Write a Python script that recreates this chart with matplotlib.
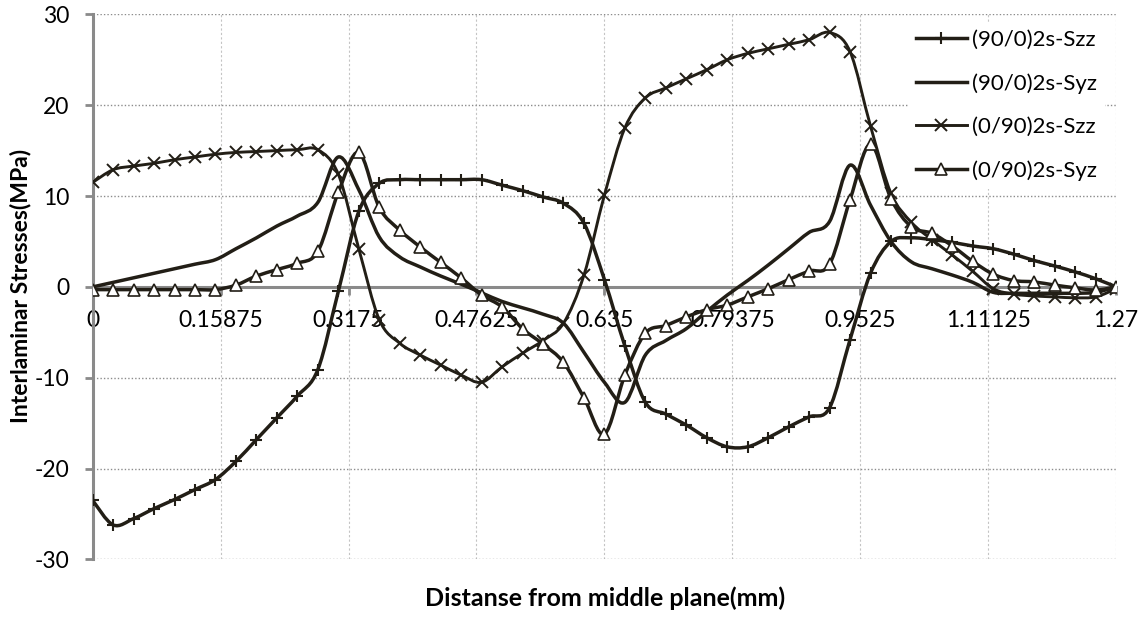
"""
Interlaminar stresses across the laminate thickness, (90/0)2s vs (0/90)2s.
"""

import numpy as np
import matplotlib
matplotlib.use("Agg")
import matplotlib.pyplot as plt
from matplotlib.path import Path
from matplotlib.patches import PathPatch
from matplotlib.lines import Line2D

plt.rcParams['font.family'] = ['Lato', 'DejaVu Sans']
plt.rcParams['axes.unicode_minus'] = False

# distance from middle plane (mm), one point every 0.0254 mm
x_mm = [0, 0.0254, 0.0508, 0.0762, 0.1016, 0.127, 0.1524, 0.1778, 0.2032, 0.2286,
        0.254, 0.2794, 0.3048, 0.3302, 0.3556, 0.381, 0.4064, 0.4318, 0.4572, 0.4826,
        0.508, 0.5334, 0.5588, 0.5842, 0.6096, 0.635, 0.6604, 0.6858, 0.7112, 0.7366,
        0.762, 0.7874, 0.8128, 0.8382, 0.8636, 0.889, 0.9144, 0.9398, 0.9652, 0.9906,
        1.016, 1.0414, 1.0668, 1.0922, 1.1176, 1.143, 1.1684, 1.1938, 1.2192, 1.2446,
        1.27]

szz_90_0 = [-23.5, -26.2, -25.5, -24.4, -23.4, -22.3, -21.2, -19.2, -16.8, -14.4,
            -12.0, -9.1, -0.5, 8.3, 11.4, 11.8, 11.8, 11.8, 11.8, 11.8,
            11.2, 10.6, 9.9, 9.2, 7.0, 0.8, -6.5, -12.7, -14.0, -15.2,
            -16.6, -17.6, -17.6, -16.6, -15.4, -14.3, -13.3, -5.8, 1.5, 5.0,
            5.4, 5.2, 4.9, 4.5, 4.2, 3.6, 2.9, 2.3, 1.65, 0.9,
            0.0]

syz_90_0 = [0.0, 0.5, 1.0, 1.5, 2.0, 2.5, 3.0, 4.2, 5.4, 6.7,
            7.8, 9.3, 14.3, 10.7, 5.5, 3.3, 2.2, 1.2, 0.3, -0.65,
            -1.6, -2.3, -3.0, -4.0, -7.2, -10.5, -12.7, -7.5, -5.9, -4.6,
            -2.7, -0.9, 0.7, 2.4, 4.2, 6.0, 7.2, 13.4, 9.0, 5.0,
            2.75, 2.0, 1.3, 0.5, -0.6, -0.7, -0.7, -0.7, -0.7, -0.6,
            0.0]

szz_0_90 = [11.5, 12.9, 13.3, 13.6, 14.0, 14.3, 14.6, 14.8, 14.9, 15.0,
            15.1, 15.1, 12.4, 4.2, -3.6, -6.2, -7.5, -8.6, -9.7, -10.5,
            -8.8, -7.3, -5.9, -4.0, 1.3, 10.1, 17.5, 20.8, 21.9, 22.9,
            23.9, 25.0, 25.7, 26.2, 26.7, 27.2, 28.0, 25.9, 17.7, 10.3,
            7.1, 5.2, 3.5, 1.7, -0.2, -0.8, -1.0, -1.1, -1.2, -1.1,
            -0.2]

syz_0_90 = [-0.3, -0.3, -0.3, -0.3, -0.3, -0.3, -0.3, 0.2, 1.2, 1.9,
            2.6, 3.9, 10.4, 14.8, 8.75, 6.25, 4.4, 2.7, 1.0, -0.9,
            -2.2, -4.6, -6.3, -8.3, -12.2, -16.2, -9.7, -5.1, -4.25, -3.3,
            -2.5, -2.0, -1.1, -0.2, 0.8, 1.75, 2.5, 9.6, 15.7, 9.7,
            6.6, 5.9, 4.5, 2.8, 1.4, 0.7, 0.55, 0.2, -0.1, -0.35,
            0.0]

x_ticks = [0, 0.15875, 0.3175, 0.47625, 0.635, 0.79375, 0.9525, 1.11125, 1.27]
x_tick_labels = ['0', '0.15875', '0.3175', '0.47625', '0.635', '0.79375',
                 '0.9525', '1.11125', '1.27']
y_ticks = [-30, -20, -10, 0, 10, 20, 30]

INK = '#221e16'
AXIS_GREY = '#8a8a8a'


def smooth_path(xs, ys):
    """Excel style smoothed line: Bezier segments through every point."""
    pts = np.column_stack([xs, ys]).astype(float)
    n = len(pts)
    verts = [pts[0]]
    codes = [Path.MOVETO]
    for i in range(n - 1):
        p0 = pts[i - 1] if i > 0 else pts[i]
        p1 = pts[i]
        p2 = pts[i + 1]
        p3 = pts[i + 2] if i + 2 < n else pts[i + 1]
        verts += [p1 + (p2 - p0) / 6.0, p2 - (p3 - p1) / 6.0, p2]
        codes += [Path.CURVE4] * 3
    return Path(verts, codes)


def plot_series(ax, ys, lw, marker=None, ms=9, mew=1.5, mfc=INK):
    ax.add_patch(PathPatch(smooth_path(x_mm, ys), fill=False, lw=lw,
                           edgecolor=INK, zorder=3, capstyle='round',
                           joinstyle='round'))
    if marker:
        ax.plot(x_mm, ys, ls='none', marker=marker, ms=ms, mew=mew,
                mec=INK, mfc=mfc, zorder=4)
    return Line2D([], [], color=INK, lw=lw, marker=marker, ms=ms, mew=mew,
                  mec=INK, mfc=mfc)


def make_chart():
    fig = plt.figure(figsize=(11.47, 6.2), dpi=100)
    ax = fig.add_axes([0.0808, 0.0976, 0.8923, 0.8793])

    h1 = plot_series(ax, szz_90_0, 2.5, marker='+', ms=9, mew=1.5)
    h2 = plot_series(ax, syz_90_0, 2.5)
    h3 = plot_series(ax, szz_0_90, 2.1, marker='x', ms=8, mew=1.4)
    h4 = plot_series(ax, syz_0_90, 2.5, marker='^', ms=8.5, mew=1.2,
                     mfc='white')

    ax.set_xlim(0, 1.27)
    ax.set_ylim(-30, 30)
    ax.set_xticks(x_ticks)
    ax.set_xticklabels(x_tick_labels)
    ax.set_yticks(y_ticks)

    ax.yaxis.grid(True, ls=(0, (1, 1.5)), color='#8c8c8c', lw=1.0)
    ax.xaxis.grid(True, ls=(0, (2, 2)), color='#c4c4c4', lw=0.8)
    ax.set_axisbelow(True)

    for side in ('top', 'right'):
        ax.spines[side].set_visible(False)
    ax.spines['left'].set_color(AXIS_GREY)
    ax.spines['left'].set_linewidth(2.2)
    ax.spines['bottom'].set_position(('data', 0))
    ax.spines['bottom'].set_color(AXIS_GREY)
    ax.spines['bottom'].set_linewidth(2.2)
    ax.spines['bottom'].set_zorder(2)

    ax.tick_params(axis='both', direction='out', length=5.8, width=2,
                   color=AXIS_GREY, labelsize=16.5, labelcolor='black')
    ax.tick_params(axis='y', pad=11)
    ax.tick_params(axis='x', pad=11)

    fig.text(21 / 1147, 1 - 286 / 620, 'Interlaminar Stresses(MPa)',
             rotation=90, ha='center', va='center', fontsize=16.5,
             fontweight='bold')
    fig.text(605 / 1147, 1 - 598 / 620, 'Distanse from middle plane(mm)',
             ha='center', va='center', fontsize=18, fontweight='bold')

    leg = ax.legend([h1, h2, h3, h4],
                    ['(90/0)2s-Szz', '(90/0)2s-Syz', '(0/90)2s-Szz',
                     '(0/90)2s-Syz'],
                    loc='upper left', bbox_to_anchor=(908 / 1147, 1 - 22 / 620),
                    bbox_transform=fig.transFigure, fontsize=16,
                    handlelength=2.3, handletextpad=0.25, labelspacing=1.05,
                    borderpad=0.35, borderaxespad=0, frameon=True,
                    fancybox=False, framealpha=1)
    leg.get_frame().set_edgecolor('none')
    leg.get_frame().set_facecolor('white')
    leg.set_zorder(5)

    fig.savefig('out.png', dpi=100)


if __name__ == "__main__":
    make_chart()
